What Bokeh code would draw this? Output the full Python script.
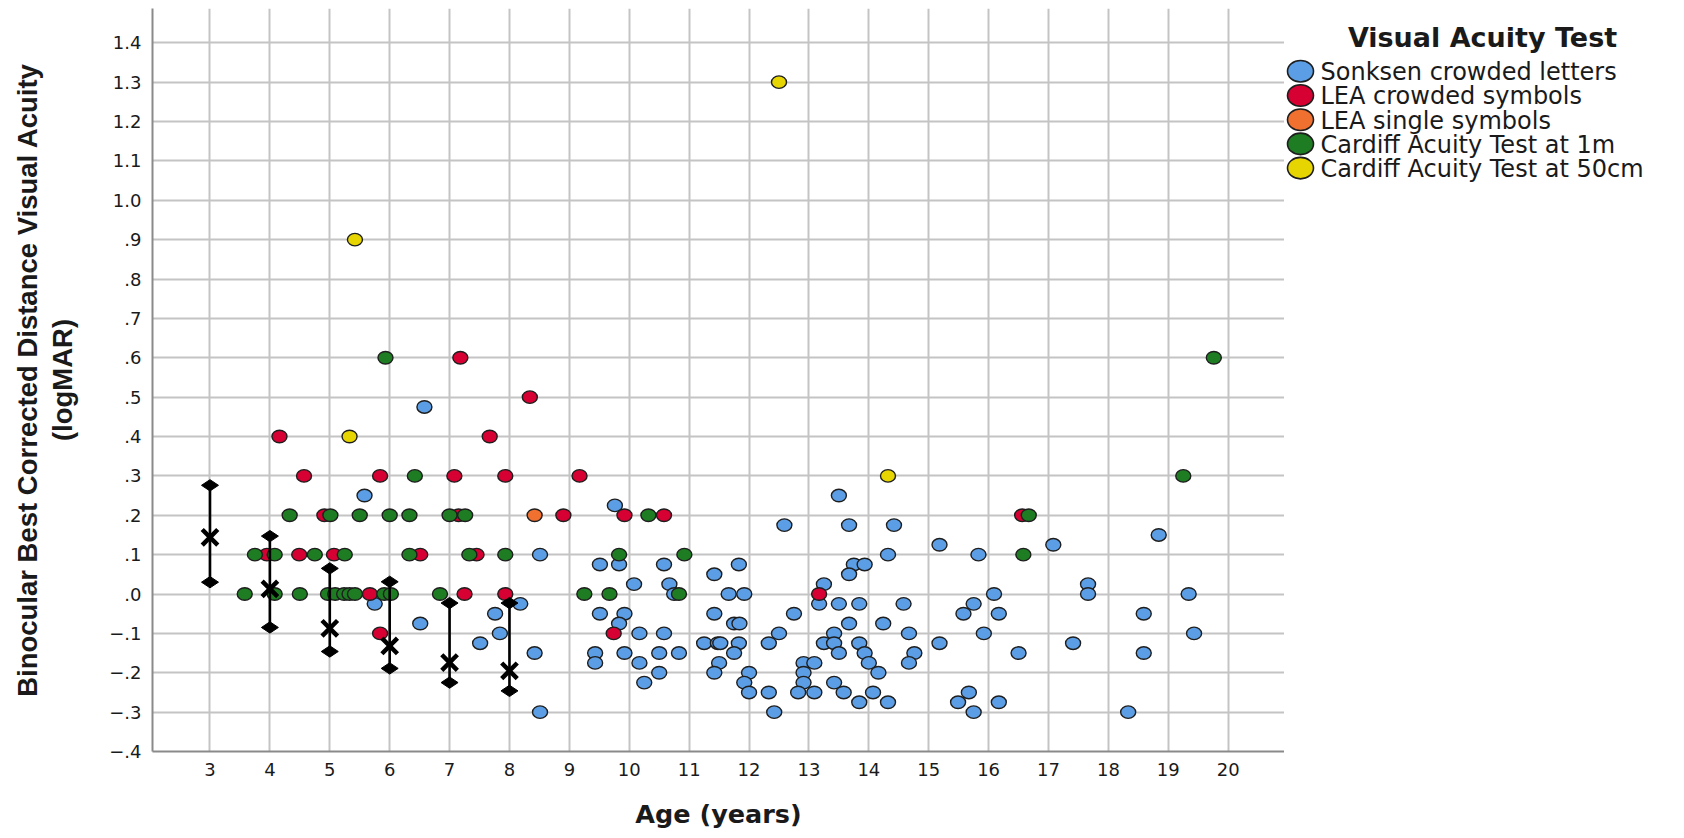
import math

from bokeh.core.properties import value
from bokeh.embed import file_html
from bokeh.layouts import row
from bokeh.models import Range1d
from bokeh.plotting import figure
from bokeh.resources import INLINE

FONT = "DejaVu Sans"
TITLE_FONT = "Liberation Sans"
INK = "#1a1a1a"

# ---- data -----------------------------------------------------------------
test_names = [
    "Sonksen crowded letters",
    "LEA crowded symbols",
    "LEA single symbols",
    "Cardiff Acuity Test at 1m",
    "Cardiff Acuity Test at 50cm",
]
test_colors = ["#5b9ee6", "#d60032", "#f07030", "#1e7d22", "#e6d500"]

sonksen_age = [
    6.58, 5.58, 8.51, 5.75, 8.18, 7.76, 6.51, 7.84, 7.51, 8.42, 8.51,
    9.76, 12.59, 13.50, 13.67, 14.42, 15.18, 17.08, 15.83, 14.32,
    9.51, 9.83, 10.58, 11.42, 11.83, 13.75, 13.93, 13.67,
    10.08, 10.67, 13.25, 17.66,
    10.75, 11.66, 11.92, 16.09, 17.66,
    13.17, 13.50, 13.84, 14.58, 15.75,
    9.51, 9.92, 11.42, 12.75, 15.58, 16.17,
    9.83, 11.75, 11.84, 13.67, 14.24,
    10.17, 10.58, 12.50, 13.42, 14.67, 15.92,
    11.25, 11.48, 11.52, 11.83, 12.33, 13.25, 13.42, 13.84, 15.18, 17.41,
    9.43, 9.92, 10.50, 10.83, 11.75, 13.50, 13.93, 14.76, 16.50,
    9.43, 10.17, 11.50, 12.91, 13.09, 14.00, 14.67,
    10.50, 11.42, 12.00, 12.91, 14.16,
    10.25, 11.92, 12.91, 13.42,
    12.00, 12.33, 12.82, 13.09, 13.58, 14.07, 15.67,
    13.84, 14.32, 15.49, 16.17,
    12.42, 15.75,
    18.84, 19.34, 18.59, 19.43, 18.59, 18.33,
]
sonksen_va = [
    0.475, 0.25, 0.10, -0.025, -0.025, -0.05, -0.075, -0.10, -0.125, -0.15, -0.30,
    0.225, 0.175, 0.25, 0.175, 0.175, 0.125, 0.125, 0.10, 0.10,
    0.075, 0.075, 0.075, 0.05, 0.075, 0.075, 0.075, 0.05,
    0.025, 0.025, 0.025, 0.025,
    0.0, 0.0, 0.0, 0.0, 0.0,
    -0.025, -0.025, -0.025, -0.025, -0.025,
    -0.05, -0.05, -0.05, -0.05, -0.05, -0.05,
    -0.075, -0.075, -0.075, -0.075, -0.075,
    -0.10, -0.10, -0.10, -0.10, -0.10, -0.10,
    -0.125, -0.125, -0.125, -0.125, -0.125, -0.125, -0.125, -0.125, -0.125, -0.125,
    -0.15, -0.15, -0.15, -0.15, -0.15, -0.15, -0.15, -0.15, -0.15,
    -0.175, -0.175, -0.175, -0.175, -0.175, -0.175, -0.175,
    -0.20, -0.20, -0.20, -0.20, -0.20,
    -0.225, -0.225, -0.225, -0.225,
    -0.25, -0.25, -0.25, -0.25, -0.25, -0.25, -0.25,
    -0.275, -0.275, -0.275, -0.275,
    -0.30, -0.30,
    0.15, 0.0, -0.05, -0.10, -0.15, -0.30,
]

lea_crowded_age = [
    4.16, 7.67, 4.57, 5.84, 7.08, 7.93, 4.91, 7.15, 8.90, 9.17, 9.92, 10.58,
    16.56, 3.95, 4.49, 5.07, 6.51, 7.45, 5.67, 7.25, 7.93, 13.17, 5.84, 9.74,
    7.18, 8.34,
]
lea_crowded_va = [
    0.40, 0.40, 0.30, 0.30, 0.30, 0.30, 0.20, 0.20, 0.20, 0.30, 0.20, 0.20,
    0.20, 0.10, 0.10, 0.10, 0.10, 0.10, 0.0, 0.0, 0.0, 0.0, -0.10, -0.10,
    0.60, 0.50,
]

lea_single_age = [8.42]
lea_single_va = [0.20]

cardiff_1m_age = [
    5.93, 6.42, 4.33, 5.01, 5.50, 6.00, 6.33, 7.00, 7.26, 10.32, 16.67,
    3.75, 4.08, 4.75, 5.25, 6.33, 7.33, 7.93, 9.83, 10.92, 16.58,
    3.58, 4.08, 4.50, 4.97, 5.09, 5.24, 5.33, 5.42, 5.91, 6.02, 6.84,
    9.25, 9.67, 10.83, 19.25, 19.76,
]
cardiff_1m_va = [
    0.60, 0.30, 0.20, 0.20, 0.20, 0.20, 0.20, 0.20, 0.20, 0.20, 0.20,
    0.10, 0.10, 0.10, 0.10, 0.10, 0.10, 0.10, 0.10, 0.10, 0.10,
    0.0, 0.0, 0.0, 0.0, 0.0, 0.0, 0.0, 0.0, 0.0, 0.0, 0.0,
    0.0, 0.0, 0.0, 0.30, 0.60,
]

cardiff_50cm_age = [5.42, 5.33, 12.50, 14.32]
cardiff_50cm_va = [0.90, 0.40, 1.30, 0.30]

# mean and interval per whole year of age (3 to 8 years)
summary_age = [3, 4, 5, 6, 7, 8]
summary_mean = [0.144, 0.013, -0.087, -0.132, -0.174, -0.195]
summary_low = [0.030, -0.085, -0.146, -0.189, -0.225, -0.246]
summary_high = [0.276, 0.147, 0.065, 0.031, -0.023, -0.023]

age_ticks = [3, 4, 5, 6, 7, 8, 9, 10, 11, 12, 13, 14, 15, 16, 17, 18, 19, 20]
va_ticks = [-0.4, -0.3, -0.2, -0.1, 0.0, 0.1, 0.2, 0.3, 0.4, 0.5, 0.6, 0.7,
            0.8, 0.9, 1.0, 1.1, 1.2, 1.3, 1.4]
va_tick_labels = ["\u2212.4", "\u2212.3", "\u2212.2", "\u2212.1", ".0", ".1", ".2",
                  ".3", ".4", ".5", ".6", ".7", ".8", ".9", "1.0", "1.1", "1.2",
                  "1.3", "1.4"]

series = [
    (sonksen_age, sonksen_va),
    (lea_crowded_age, lea_crowded_va),
    (lea_single_age, lea_single_va),
    (cardiff_1m_age, cardiff_1m_va),
    (cardiff_50cm_age, cardiff_50cm_va),
]

# ---- scatter plot ----------------------------------------------------------
p = figure(
    width=1284, height=838,
    x_range=Range1d(2.04, 20.94), y_range=Range1d(-0.4, 1.487),
    output_backend="svg", toolbar_location=None,
    min_border_left=152, min_border_right=0,
    min_border_top=8, min_border_bottom=87,
)
p.outline_line_color = None
p.background_fill_color = "white"
p.border_fill_color = "white"

p.xaxis.ticker = age_ticks
p.yaxis.ticker = va_ticks
p.yaxis.major_label_overrides = dict(zip(va_ticks, va_tick_labels))

for g in (p.xgrid, p.ygrid):
    g.grid_line_color = "#c4c4c4"
    g.grid_line_width = 2

for ax in (p.xaxis, p.yaxis):
    ax.axis_line_color = "#8a8a8a"
    ax.axis_line_width = 2
    ax.major_tick_line_color = None
    ax.minor_tick_line_color = None
    ax.major_tick_out = 0
    ax.major_tick_in = 0
    ax.minor_tick_out = 0
    ax.minor_tick_in = 0
    ax.major_label_text_font = FONT
    ax.major_label_text_font_size = "18px"
    ax.major_label_text_color = INK
    ax.major_label_standoff = 11
    ax.axis_label_text_font_style = "bold"
    ax.axis_label_text_color = INK

p.xaxis.axis_label = "Age (years)"
p.xaxis.axis_label_text_font = FONT
p.xaxis.axis_label_text_font_size = "25.5px"
p.xaxis.axis_label_standoff = 20
p.yaxis.axis_label = "Binocular Best Corrected Distance Visual Acuity\n(logMAR)"
p.yaxis.axis_label_text_font = TITLE_FONT
p.yaxis.axis_label_text_font_size = "27.5px"
p.yaxis.axis_label_text_line_height = 1.15
p.yaxis.axis_label_standoff = 28

for (ages, vals), color in zip(series, test_colors):
    p.ellipse(x=ages, y=vals, width=15, height=12.5,
              width_units="screen", height_units="screen",
              fill_color=color, line_color="#1e1e1e", line_width=1.4)

# yearly mean with interval
p.segment(x0=summary_age, y0=summary_low, x1=summary_age, y1=summary_high,
          line_color="black", line_width=2.6)
p.scatter(x=summary_age + summary_age, y=summary_low + summary_high,
          marker="diamond", size=17, angle=math.pi / 2,
          fill_color="black", line_color="black")
p.scatter(x=summary_age, y=summary_mean, marker="x", size=22,
          line_color="black", line_width=4.5)

# ---- legend panel ------------------------------------------------------------
lg = figure(
    width=400, height=838,
    x_range=Range1d(1284, 1684), y_range=Range1d(838, 0),
    x_axis_type=None, y_axis_type=None,
    output_backend="svg", toolbar_location=None, min_border=0,
)
lg.outline_line_color = None
lg.grid.visible = False

row_top, row_step = 70.8, 27.3
row_y = [row_top + i * row_step for i in range(len(test_names))]
lg.ellipse(x=[1300] * len(test_names), y=row_y, width=26, height=21.5,
           width_units="screen", height_units="screen",
           fill_color=test_colors, line_color="#1e1e1e", line_width=1.6)
lg.text(x=[1320] * len(test_names), y=[v + 1 for v in row_y], text=test_names,
        text_font=value(FONT), text_font_size="24px", text_color=INK,
        text_baseline="middle", text_align="left")
lg.text(x=[1482], y=[33], text=["Visual Acuity Test"],
        text_font=value(FONT), text_font_size="27px", text_font_style="bold",
        text_color=INK, text_baseline="middle", text_align="center")

layout = row(p, lg)
open("out.html", "w").write(file_html(layout, INLINE))
